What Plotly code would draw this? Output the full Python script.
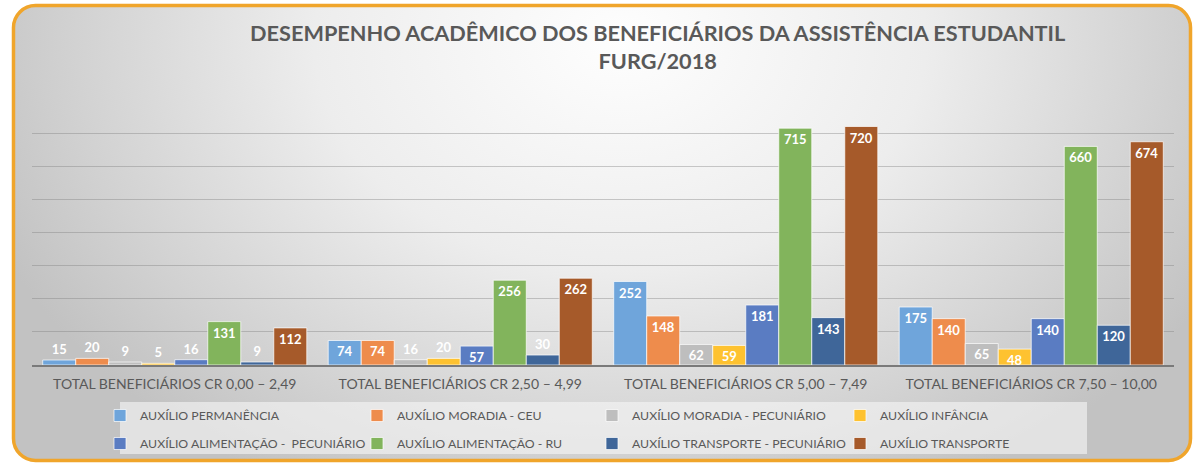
import plotly.graph_objects as go
import urllib.parse

categorias = [
    "TOTAL BENEFICIÁRIOS CR 0,00 – 2,49",
    "TOTAL BENEFICIÁRIOS CR 2,50 – 4,99",
    "TOTAL BENEFICIÁRIOS CR 5,00 – 7,49",
    "TOTAL BENEFICIÁRIOS CR 7,50 – 10,00",
]

permanencia = [15, 74, 252, 175]
moradia_ceu = [20, 74, 148, 140]
moradia_pecuniario = [9, 16, 62, 65]
infancia = [5, 20, 59, 48]
alimentacao_pecuniario = [16, 57, 181, 140]
alimentacao_ru = [131, 256, 715, 660]
transporte_pecuniario = [9, 30, 143, 120]
transporte = [112, 262, 720, 674]

# legenda em 4 colunas x 2 linhas (como no gráfico original)
series = [
    ("AUXÍLIO PERMANÊNCIA", permanencia, "#6FA5DB", "legend"),
    ("AUXÍLIO MORADIA - CEU", moradia_ceu, "#EE8C4C", "legend2"),
    ("AUXÍLIO MORADIA - PECUNIÁRIO", moradia_pecuniario, "#BEBEBE", "legend3"),
    ("AUXÍLIO INFÂNCIA", infancia, "#FEC230", "legend4"),
    ("AUXÍLIO ALIMENTAÇÃO -  PECUNIÁRIO", alimentacao_pecuniario, "#5A7CC2", "legend"),
    ("AUXÍLIO ALIMENTAÇÃO - RU", alimentacao_ru, "#82B45C", "legend2"),
    ("AUXÍLIO TRANSPORTE - PECUNIÁRIO", transporte_pecuniario, "#3F6699", "legend3"),
    ("AUXÍLIO TRANSPORTE", transporte, "#A65A2A", "legend4"),
]

W, H = 1198, 465
ml, mr, mt, mb = 32, 24, 100, 100
pw, ph = W - ml - mr, H - mt - mb

fig = go.Figure()
for nome, valores, cor, leg in series:
    fig.add_trace(go.Bar(
        name=nome,
        x=categorias,
        y=valores,
        legend=leg,
        legendgroup=nome,
        marker=dict(color=cor, line=dict(color="rgba(255,255,255,0.7)", width=1)),
        text=[str(v) for v in valores],
        textposition=["inside" if v >= 48 else "outside" for v in valores],
        insidetextanchor="end",
        textangle=0,
        textfont=dict(family="Lato", size=13, color="white", weight="bold"),
        cliponaxis=False,
    ))

# fundo com gradiente e borda laranja arredondada
svg = (
    f'<svg xmlns="http://www.w3.org/2000/svg" width="{W}" height="{H}" viewBox="0 0 {W} {H}" preserveAspectRatio="none">'
    '<defs><radialGradient id="g" gradientUnits="userSpaceOnUse" cx="620" cy="40" r="680" '
    'gradientTransform="translate(620 40) scale(1 0.75) translate(-620 -40)">'
    '<stop offset="0" stop-color="#fefefe"/>'
    '<stop offset="0.45" stop-color="#ededed"/>'
    '<stop offset="0.8" stop-color="#d2d2d2"/>'
    '<stop offset="1" stop-color="#c2c2c2"/>'
    '</radialGradient></defs>'
    '<rect x="13.5" y="5.5" width="1177" height="455" rx="22" ry="22" '
    'fill="url(#g)" stroke="#F0A52B" stroke-width="3.5"/>'
    '</svg>'
)
uri = "data:image/svg+xml;charset=utf-8," + urllib.parse.quote(svg)


def px_x(v):
    return (v - ml) / pw


def px_y(v):
    return (H - mb - v) / ph


leg_font = dict(family="Lato", size=12.3, color="#595959")


def coluna(xpx):
    return dict(
        orientation="v",
        xref="container",
        yref="container",
        x=xpx / W,
        xanchor="left",
        y=1 - 401 / H,
        yanchor="top",
        tracegroupgap=9,
        bgcolor="rgba(0,0,0,0)",
        font=leg_font,
        traceorder="grouped",
    )


fig.update_layout(
    width=W,
    height=H,
    margin=dict(l=ml, r=mr, t=mt, b=mb, autoexpand=False),
    paper_bgcolor="white",
    plot_bgcolor="rgba(0,0,0,0)",
    barmode="group",
    bargap=0.075,
    bargroupgap=0,
    uniformtext=dict(minsize=13, mode="show"),
    title=dict(
        text="DESEMPENHO ACADÊMICO DOS BENEFICIÁRIOS DA ASSISTÊNCIA ESTUDANTIL<br>FURG/2018",
        x=0.549,
        xanchor="center",
        y=1 - 41 / H,
        yanchor="top",
        font=dict(family="Lato", size=21.7, color="#595959", weight="bold"),
    ),
    font=dict(family="Lato", size=13, color="#595959"),
    xaxis=dict(
        showline=True,
        linecolor="#7a7a7a",
        linewidth=2,
        ticks="",
        ticklabelstandoff=5,
        tickfont=dict(family="Lato", size=14, color="#595959"),
        showgrid=False,
    ),
    yaxis=dict(
        range=[0, 800],
        dtick=100,
        showticklabels=False,
        showgrid=True,
        gridcolor="rgba(128,128,128,0.4)",
        gridwidth=1,
        zeroline=False,
        fixedrange=True,
    ),
    legend=coluna(100),
    legend2=coluna(357),
    legend3=coluna(592),
    legend4=coluna(840),
    shapes=[dict(
        type="rect",
        xref="paper",
        yref="paper",
        x0=px_x(120),
        x1=px_x(1087),
        y0=px_y(454),
        y1=px_y(402),
        fillcolor="rgba(246,246,246,0.6)",
        line=dict(width=0),
        layer="below",
    )],
    images=[dict(
        source=uri,
        xref="paper",
        yref="paper",
        x=-ml / pw,
        y=1 + mt / ph,
        sizex=W / pw,
        sizey=H / ph,
        xanchor="left",
        yanchor="top",
        sizing="stretch",
        layer="below",
    )],
    showlegend=True,
)

fig.write_html(
    "out.html",
    config={"displayModeBar": False},
    post_script="document.body.style.margin='0';document.body.style.overflow='hidden';",
)
